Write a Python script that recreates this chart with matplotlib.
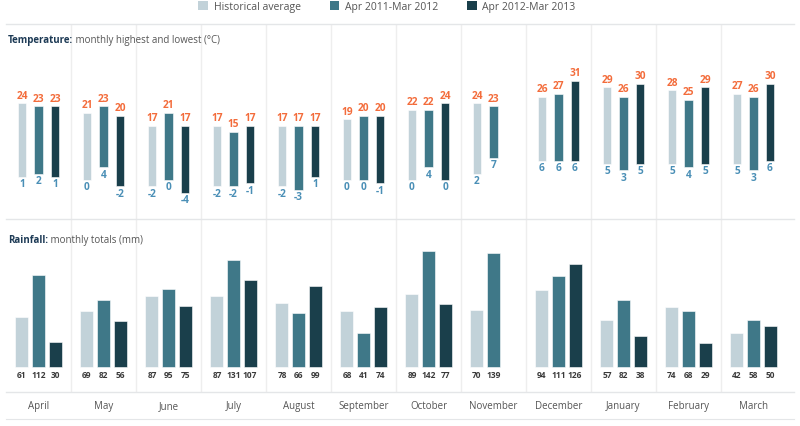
import numpy as np
import matplotlib
matplotlib.use("Agg")
import matplotlib.pyplot as plt
from matplotlib.patches import Patch

plt.rcParams['font.family'] = ['Open Sans', 'DejaVu Sans']

months = ["April", "May", "June", "July", "August", "September", "October",
          "November", "December", "January", "February", "March"]
series = ["Historical average", "Apr 2011-Mar 2012", "Apr 2012-Mar 2013"]
colors = ["#c2d2d9", "#3f7888", "#1a3f4b"]

nan = np.nan
temp_hi = [
    [24, 21, 17, 17, 17, 19, 22, 24, 26, 29, 28, 27],
    [23, 23, 21, 15, 17, 20, 22, 23, 27, 26, 25, 26],
    [23, 20, 17, 17, 17, 20, 24, nan, 31, 30, 29, 30],
]
temp_lo = [
    [1, 0, -2, -2, -2, 0, 0, 2, 6, 5, 5, 5],
    [2, 4, 0, -2, -3, 0, 4, 7, 6, 3, 4, 3],
    [1, -2, -4, -1, 1, -1, 0, nan, 6, 5, 5, 6],
]
rain = [
    [61, 69, 87, 87, 78, 68, 89, 70, 94, 57, 74, 42],
    [112, 82, 95, 131, 66, 41, 142, 139, 111, 82, 68, 58],
    [30, 56, 75, 107, 99, 74, 77, nan, 126, 38, 29, 50],
]

W, H = 800, 426
fig = plt.figure(figsize=(W / 100, H / 100), dpi=100)

x0, xw = 6, 788
def px_axes(top, bottom):
    return fig.add_axes([x0 / W, (H - bottom) / H, xw / W, (bottom - top) / H])

ax_t = px_axes(24, 219)
ax_r = px_axes(219, 392)
ax_m = px_axes(392, 419)

xmax = xw / 65
line_c = "#e4e6e8"
for ax in (ax_t, ax_r, ax_m):
    ax.set_xlim(0, xmax)
    ax.set_xticks([])
    ax.set_yticks([])
    for s in ("left", "right", "bottom"):
        ax.spines[s].set_visible(False)
    ax.spines["top"].set_color(line_c)
    ax.spines["top"].set_linewidth(1)
ax_m.spines["bottom"].set_visible(True)
ax_m.spines["bottom"].set_color(line_c)

for ax in (ax_t, ax_r):
    for k in range(1, 12):
        ax.axvline(k, color="#eeeeee", lw=1, zorder=0)

ax_t.set_ylim(-12.2, 48.75)
ax_r.set_ylim(-30.6, 181.1)
ax_m.set_ylim(0, 1)

x = np.arange(12) + 0.5
offs = [-0.254, 0.0, 0.254]
orange = "#f36c3b"
blue = "#4a8fb6"

for i in range(3):
    hi = np.array(temp_hi[i], dtype=float)
    lo = np.array(temp_lo[i], dtype=float)
    xs = x + offs[i]
    ax_t.bar(xs, hi - lo, bottom=lo, width=0.125, color=colors[i],
             edgecolor="white", linewidth=0.4, zorder=2)
    for xx, h, l in zip(xs, hi, lo):
        if np.isnan(h):
            continue
        ax_t.annotate(f"{h:.0f}", (xx, h), xytext=(0, 1.2), textcoords="offset points",
                      ha="center", va="bottom", fontsize=7.3, fontweight="bold", color=orange)
        ax_t.annotate(f"{l:.0f}", (xx, l), xytext=(0, -1.8), textcoords="offset points",
                      ha="center", va="top", fontsize=7.3, fontweight="bold", color=blue)

    r = np.array(rain[i], dtype=float)
    ax_r.bar(xs, r, width=0.2, color=colors[i], edgecolor="white",
             linewidth=0.4, zorder=2)
    for xx, v in zip(xs, r):
        if np.isnan(v):
            continue
        ax_r.annotate(f"{v:.0f}", (xx, 0), xytext=(0, -3.2), textcoords="offset points",
                      ha="center", va="top", fontsize=6, fontweight="bold", color="#3a3a3a")

for xx, m in zip(x, months):
    ax_m.text(xx, 0.45, m, ha="center", va="center", fontsize=7, color="#555555")

# section titles
navy = "#1d3a55"
t1 = fig.text(8 / W, 1 - 41 / H, "Temperature:", fontsize=7, fontweight="bold",
              color=navy, va="center")
ax_t.annotate(" monthly highest and lowest (°C)", xy=(1, 0.5), xycoords=t1,
              va="center", ha="left", fontsize=7, color="#555555",
              annotation_clip=False)
t2 = fig.text(8 / W, 1 - 241 / H, "Rainfall:", fontsize=7, fontweight="bold",
              color=navy, va="center")
ax_r.annotate(" monthly totals (mm)", xy=(1, 0.5), xycoords=t2,
              va="center", ha="left", fontsize=7, color="#555555",
              annotation_clip=False)

handles = [Patch(facecolor=c, edgecolor="none") for c in colors]
fig.legend(handles, series, loc="center", bbox_to_anchor=(387 / W, 1 - 7 / H),
           ncol=3, frameon=False, fontsize=7.5, handlelength=0.9, handleheight=0.95,
           handletextpad=0.55, columnspacing=2.8, labelcolor="#555555",
           borderpad=0)

fig.savefig("out.png", dpi=100)
